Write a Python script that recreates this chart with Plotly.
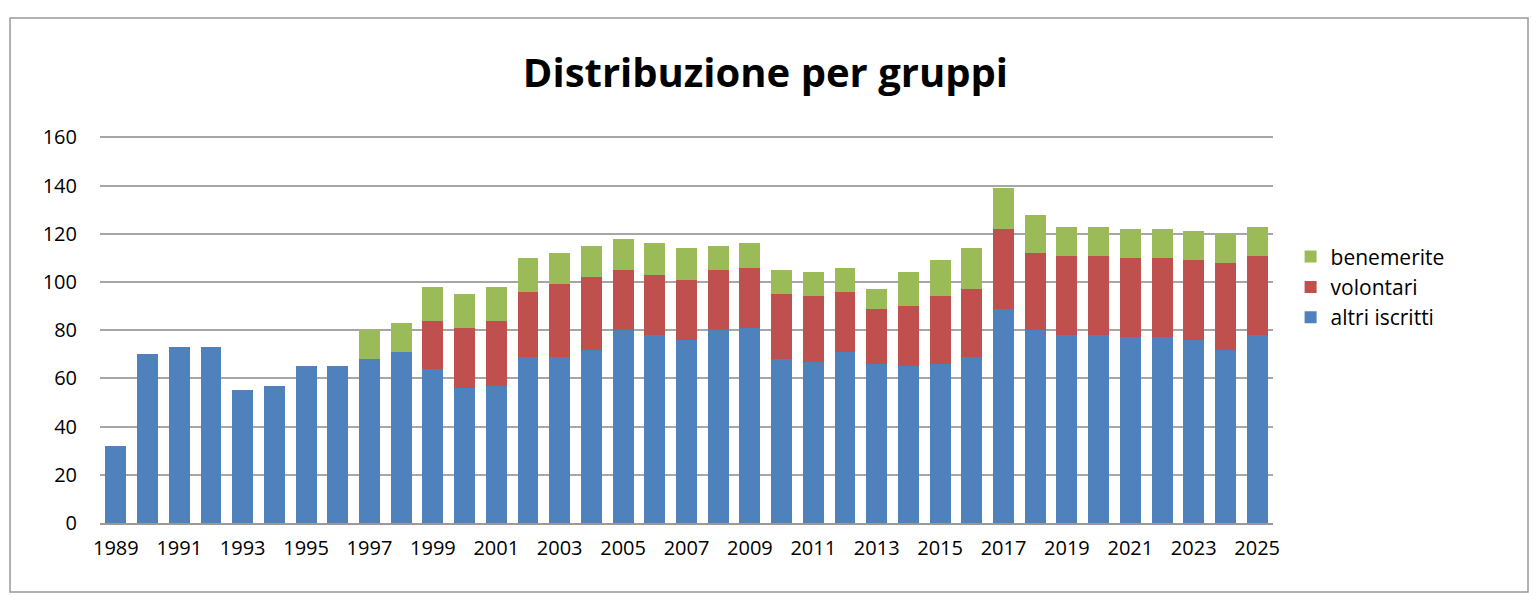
import plotly.graph_objects as go

years = [str(y) for y in range(1989, 2026)]
altri_iscritti = [32, 70, 73, 73, 55, 57, 65, 65, 68, 71, 64, 56, 57, 69, 69, 72, 80, 78, 76, 80, 81,
                  68, 67, 71, 66, 65, 66, 69, 89, 80, 78, 78, 77, 77, 76, 72, 78]
volontari = [0, 0, 0, 0, 0, 0, 0, 0, 0, 0, 20, 25, 27, 27, 30, 30, 25, 25, 25, 25, 25,
             27, 27, 25, 23, 25, 28, 28, 33, 32, 33, 33, 33, 33, 33, 36, 33]
benemerite = [0, 0, 0, 0, 0, 0, 0, 0, 12, 12, 14, 14, 14, 14, 13, 13, 13, 13, 13, 10, 10,
              10, 10, 10, 8, 14, 15, 17, 17, 16, 12, 12, 12, 12, 12, 12, 12]

fig = go.Figure()
for name, vals, color in [
    ("altri iscritti", altri_iscritti, "#4F81BD"),
    ("volontari", volontari, "#C0504D"),
    ("benemerite", benemerite, "#9BBB59"),
]:
    fig.add_trace(go.Bar(x=years, y=vals, name=name, marker={"color": color, "line": {"width": 0}}))

fig.update_layout(
    barmode="stack",
    bargap=0.34,
    width=1524,
    height=594,
    margin={"l": 92, "r": 259, "t": 128, "b": 79},
    paper_bgcolor="white",
    plot_bgcolor="white",
    font={"family": "Open Sans, Liberation Sans, sans-serif", "size": 20, "color": "black"},
    title={
        "text": "<b>Distribuzione per gruppi</b>",
        "x": 0.497,
        "xanchor": "center",
        "y": 0.89,
        "yanchor": "middle",
        "font": {"size": 40},
    },
    legend={
        "traceorder": "reversed",
        "x": 1.015,
        "y": 0.61,
        "yanchor": "middle",
        "font": {"size": 21},
        "itemwidth": 30,
        "tracegroupgap": 22,
    },
    xaxis={
        "type": "category",
        "tickvals": years[::2],
        "ticks": "outside",
        "ticklen": 6,
        "tickcolor": "white",
        "showline": True,
        "linecolor": "#999",
        "linewidth": 1.5,
    },
    yaxis={
        "range": [0, 160.6],
        "tickvals": list(range(0, 161, 20)),
        "gridcolor": "#a6a6a6",
        "gridwidth": 1.5,
        "zeroline": False,
        "ticks": "",
        "ticklabelstandoff": 22,
    },
    shapes=[{
        "type": "rect", "xref": "paper", "yref": "paper",
        "x0": -0.0767, "x1": 1.2174, "y0": -0.178, "y1": 1.305,
        "line": {"color": "#999", "width": 1.5},
    }],
)
fig.write_html("out.html")
